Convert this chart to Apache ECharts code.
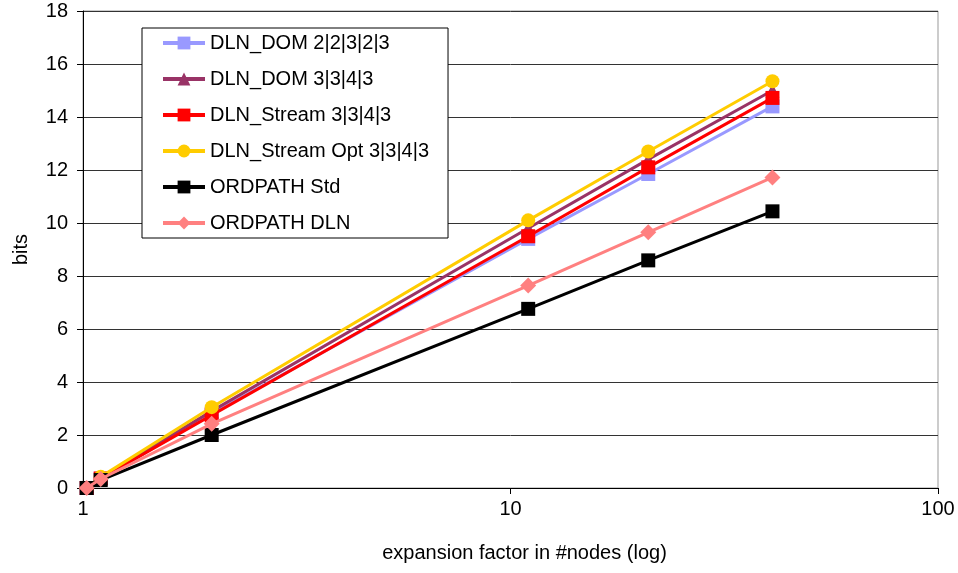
<!DOCTYPE html>
<html>
<head>
<meta charset="utf-8">
<script src="https://cdn.jsdelivr.net/npm/echarts@6/dist/echarts.min.js"></script>
<style>
html,body{margin:0;padding:0;background:#fff;}
#c{width:958px;height:573px;}
</style>
</head>
<body>
<div id="c"></div>
<script>
var xValues = [1.02, 1.1, 2, 11, 21, 41];
var seriesNames = ['DLN_DOM 2|2|3|2|3', 'DLN_DOM 3|3|4|3', 'DLN_Stream 3|3|4|3', 'DLN_Stream Opt 3|3|4|3', 'ORDPATH Std', 'ORDPATH DLN'];
var domA = [0, 0.35, 2.8, 9.4, 11.85, 14.4];
var domB = [0, 0.38, 2.9, 9.8, 12.4, 15.0];
var streamA = [0, 0.36, 2.75, 9.5, 12.1, 14.72];
var streamOpt = [0, 0.42, 3.05, 10.1, 12.7, 15.35];
var ordStd = [0, 0.3, 2.0, 6.76, 8.59, 10.44];
var ordDln = [0, 0.34, 2.42, 7.64, 9.65, 11.72];
var yTicks = [0, 2, 4, 6, 8, 10, 12, 14, 16, 18];

var seriesData = [domA, domB, streamA, streamOpt, ordStd, ordDln];
var colors = ['#9999FF', '#993366', '#FF0000', '#FFCC00', '#000000', '#FF8080'];
var symbols = ['rect', 'triangle', 'rect', 'circle', 'rect', 'diamond'];

var font = 'Liberation Sans, Arial, sans-serif';
var chart = echarts.init(document.getElementById('c'), null, {renderer: 'canvas'});

var series = seriesNames.map(function (name, i) {
  return {
    name: name,
    type: 'line',
    data: xValues.map(function (x, j) { return [x, seriesData[i][j]]; }),
    symbol: symbols[i],
    symbolSize: symbols[i] === 'diamond' ? 16 : 14,
    showAllSymbol: true,
    lineStyle: {color: colors[i], width: 3},
    itemStyle: {color: colors[i], borderWidth: 0},
    z: 2 + i,
    animation: false,
    clip: false
  };
});

chart.setOption({
  animation: false,
  backgroundColor: '#fff',
  textStyle: {fontFamily: font},
  grid: {left: 83, right: 20, top: 11, bottom: 85, show: true, borderColor: '#999', borderWidth: 1,
         containLabel: false, outerBoundsMode: 'none'},
  legend: {
    orient: 'vertical',
    left: 142,
    top: 28,
    padding: [5, 19, 5, 19],
    itemGap: 16,
    itemWidth: 42,
    itemHeight: 16,
    borderColor: '#000',
    borderWidth: 1,
    backgroundColor: '#fff',
    lineStyle: {width: 4},
    textStyle: {fontFamily: font, fontSize: 20, color: '#000', lineHeight: 20},
    data: seriesNames
  },
  xAxis: {
    type: 'log',
    logBase: 10,
    min: 1,
    max: 100,
    name: 'expansion factor in #nodes (log)',
    nameLocation: 'middle',
    nameGap: 55,
    nameTextStyle: {fontFamily: font, fontSize: 20, color: '#000', padding: [0, 0, 0, 28]},
    axisLine: {show: true, lineStyle: {color: '#000', width: 1}},
    axisTick: {show: true, length: 6, lineStyle: {color: '#000'}},
    minorTick: {show: false},
    axisLabel: {fontFamily: font, fontSize: 20, color: '#000', margin: 11},
    splitLine: {show: false}
  },
  yAxis: {
    type: 'value',
    min: yTicks[0],
    max: yTicks[yTicks.length - 1],
    interval: 2,
    name: 'bits',
    nameLocation: 'middle',
    nameGap: 52,
    nameTextStyle: {fontFamily: font, fontSize: 20, color: '#000'},
    axisLine: {show: true, lineStyle: {color: '#000', width: 1}},
    axisTick: {show: true, length: 6, inside: false, lineStyle: {color: '#000'}},
    axisLabel: {fontFamily: font, fontSize: 20, color: '#000', margin: 15},
    splitLine: {show: true, lineStyle: {color: '#333', width: 1}}
  },
  series: series
});
</script>
</body>
</html>
